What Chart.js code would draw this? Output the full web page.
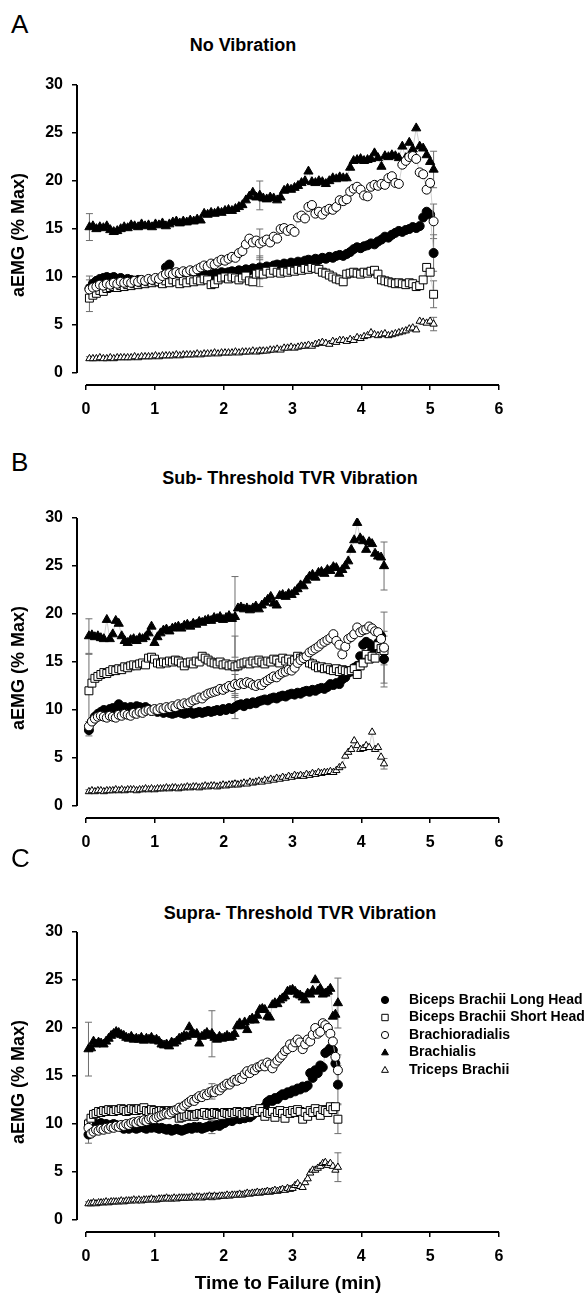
<!DOCTYPE html>
<html>
<head>
<meta charset="utf-8">
<script src="https://cdn.jsdelivr.net/npm/chart.js@4.4.1/dist/chart.umd.min.js"></script>
<style>
  body { margin: 0; background: #fff; }
  #page { position: relative; width: 585px; height: 1297px; font-family: "Liberation Sans", Arial, sans-serif; color: #000; }
  canvas { position: absolute; left: 0; }
  .letter { position: absolute; left: 11px; font-size: 26px; line-height: 1; }
  .title { position: absolute; font-size: 18px; font-weight: bold; line-height: 1; white-space: nowrap; transform: translate(-50%, -50%); }
</style>
</head>
<body>
<div id="page">
  <div class="letter" style="top:11px">A</div>
  <div class="title" style="left:243px; top:45px">No Vibration</div>
  <canvas id="chartA" width="585" height="370" style="top:60px"></canvas>

  <div class="letter" style="top:449px">B</div>
  <div class="title" style="left:290px; top:478px">Sub- Threshold TVR Vibration</div>
  <canvas id="chartB" width="585" height="370" style="top:493px"></canvas>

  <div class="letter" style="top:845px">C</div>
  <div class="title" style="left:300px; top:913px">Supra- Threshold TVR Vibration</div>
  <canvas id="chartC" width="585" height="417" style="top:880px"></canvas>
</div>
<script>
const seriesNames = ["Biceps Brachii Long Head", "Biceps Brachii Short Head", "Brachioradialis", "Brachialis", "Triceps Brachii"];
const xTicks = [0, 1, 2, 3, 4, 5, 6];
const yTicks = [0, 5, 10, 15, 20, 25, 30];
const errIndex = [0, 49, 99]; // samples that carry an SD bar (start, middle, end)

// time to failure of each condition (min); 100 samples over it
const durA = 5.05;
const durB = 4.33;
const durC = 3.66;

// ---- A: No Vibration
const A_long = [
  8.8, 9.3, 9.6, 9.8, 9.9, 10.0, 9.9, 10.0, 9.8, 9.9,
  9.7, 9.8, 9.7, 9.6, 9.7, 9.6, 9.5, 9.6, 9.5, 9.6,
  9.5, 9.6, 11.0, 11.3, 10.4, 10.1, 10.0, 9.9, 10.0, 10.1,
  10.0, 10.1, 10.2, 10.1, 10.3, 10.2, 10.4, 10.3, 10.5, 10.4,
  10.5, 10.6, 10.5, 10.7, 10.6, 10.8, 10.7, 10.9, 10.8, 11.0,
  10.9, 11.1, 11.0, 11.2, 11.3, 11.2, 11.4, 11.3, 11.5, 11.4,
  11.6, 11.5, 11.7, 11.8, 11.7, 11.9, 11.8, 12.0, 11.9, 12.1,
  12.0, 12.2, 12.3, 12.2, 12.4, 12.6, 12.9, 13.1, 13.0, 13.2,
  13.3, 13.5, 13.4, 13.7, 13.9, 14.2, 14.1, 14.4, 14.6, 14.8,
  14.7, 14.9, 15.0, 15.2, 15.1, 15.3, 16.2, 16.8, 16.5, 12.5
];
const A_short = [
  7.8, 8.1, 8.3, 8.6, 8.5, 8.8, 8.9, 9.0, 8.9, 9.1,
  9.0, 9.2, 9.1, 9.3, 9.2, 9.4, 9.3, 9.5, 9.4, 9.6,
  9.5, 9.3, 9.6, 9.4, 9.7, 9.5, 9.3, 9.6, 9.4, 9.7,
  9.5, 9.7, 9.6, 9.8, 9.7, 9.2, 9.3, 9.7, 9.9, 10.0,
  9.8, 10.0, 9.9, 9.7, 9.9, 10.1, 9.6, 9.5, 10.3, 10.4,
  10.3, 10.6, 10.4, 10.7, 10.5, 10.4, 10.6, 10.5, 10.7, 10.6,
  10.8, 10.7, 10.9, 10.8, 11.0, 10.9, 10.8, 10.5, 10.4, 10.2,
  10.0, 9.8, 9.7, 9.5, 10.3, 10.4, 10.5, 10.4, 10.3, 10.5,
  10.4, 10.6, 10.7, 10.3, 9.7, 9.6, 9.5, 9.4, 9.3, 9.4,
  9.3, 9.2, 9.4, 9.3, 9.0, 9.1, 9.7, 11.0, 10.5, 8.2
];
const A_brd = [
  8.7, 8.9, 9.0, 9.2, 9.1, 9.3, 9.2, 9.4, 9.3, 9.5,
  9.4, 9.5, 9.4, 9.6, 9.5, 9.7, 9.6, 9.8, 9.7, 9.9,
  9.8, 10.1, 10.3, 10.4, 10.3, 10.5, 10.4, 10.6, 10.5, 10.7,
  10.6, 10.8, 11.0, 11.2, 11.1, 11.4, 11.3, 11.6, 11.8, 11.7,
  11.9, 12.1, 12.0, 12.5, 12.7, 13.4, 14.0, 13.6, 13.8, 13.5,
  13.7, 13.9, 13.6, 14.2, 14.0, 15.0, 15.1, 14.8, 15.0, 14.7,
  16.2, 16.4, 16.1, 17.3, 17.5, 16.6, 16.8, 16.5, 16.9, 17.1,
  17.0, 17.3, 18.0, 17.9, 18.1, 18.9, 19.2, 19.4, 19.1, 18.5,
  18.4, 19.4, 19.6, 19.5, 19.7, 19.6, 20.3, 20.5, 19.8, 19.7,
  21.7, 22.1, 22.5, 22.6, 22.3, 20.9, 20.7, 19.1, 19.8, 15.8
];
const A_bra = [
  15.2, 15.3, 15.0, 15.2, 15.1, 15.3, 14.9, 14.7, 14.8, 15.0,
  15.2, 15.1, 15.4, 15.3, 15.2, 15.5, 15.3, 15.4, 15.2, 15.5,
  15.4, 15.6, 15.3, 15.5, 15.7, 15.8, 15.6, 15.8, 15.7, 15.9,
  15.8, 16.0, 15.9, 16.6, 16.5, 16.7, 16.6, 16.8, 16.7, 16.9,
  17.0, 16.9, 17.1, 17.3, 17.5, 18.0, 18.4, 18.8, 18.3, 18.5,
  18.2, 18.1, 18.3, 18.2, 18.0, 18.3, 19.0, 19.2, 19.1, 19.3,
  19.5, 19.8, 20.0, 21.0, 19.9, 19.8, 20.0, 19.9, 19.7, 20.0,
  20.3, 20.2, 20.4, 20.3, 20.3, 21.4, 22.1, 22.2, 22.3, 22.1,
  22.2, 22.3, 22.9, 22.4, 21.5, 22.6, 22.5, 22.7, 22.6, 22.4,
  23.6, 22.4, 24.0, 23.3, 25.5, 23.6, 23.4, 22.7, 22.0, 21.2
];
const A_tri = [
  1.5, 1.5, 1.5, 1.6, 1.5, 1.5, 1.6, 1.5, 1.6, 1.6,
  1.6, 1.6, 1.6, 1.7, 1.6, 1.7, 1.7, 1.7, 1.7, 1.8,
  1.7, 1.8, 1.8, 1.8, 1.8, 1.9, 1.8, 1.9, 1.9, 1.9,
  1.9, 2.0, 1.9, 2.0, 2.0, 2.0, 2.1, 2.0, 2.1, 2.1,
  2.1, 2.1, 2.2, 2.1, 2.2, 2.2, 2.2, 2.3, 2.2, 2.3,
  2.3, 2.3, 2.4, 2.4, 2.5, 2.4, 2.6, 2.6, 2.7, 2.6,
  2.7, 2.8, 2.8, 2.9, 2.8, 3.0, 3.1, 3.2, 3.1, 3.0,
  3.3, 3.2, 3.4, 3.4, 3.3, 3.5, 3.4, 3.7, 3.6, 3.8,
  3.9, 4.2, 4.0, 3.9, 4.0, 4.1, 3.9, 4.0, 4.1, 4.2,
  4.3, 4.4, 4.6, 4.7, 4.5, 5.4, 5.3, 5.2, 5.4, 5.1
];
const A_sd_long = [1.3, 1.2, 1.9];
const A_sd_short = [1.4, 1.4, 1.4];
const A_sd_brd = [1.0, 1.5, 1.8];
const A_sd_bra = [1.4, 1.5, 1.9];
const A_sd_tri = [0.2, 0.3, 0.7];

// ---- B: Sub-threshold TVR vibration
const B_long = [
  7.9, 8.8, 9.3, 9.6, 9.8, 10.0, 9.9, 10.1, 10.2, 10.0,
  10.6, 10.2, 10.3, 10.1, 10.3, 10.2, 10.4, 10.3, 10.2, 10.3,
  10.1, 9.9, 10.0, 9.8, 9.9, 9.7, 9.8, 9.7, 9.6, 9.7,
  9.8, 9.7, 9.6, 9.7, 9.8, 9.6, 9.7, 9.8, 9.7, 9.8,
  9.9, 9.8, 9.9, 10.0, 9.9, 10.1, 10.0, 10.2, 10.1, 10.3,
  10.5, 10.6, 10.4, 10.7, 10.6, 10.8, 10.7, 10.9, 11.0, 11.1,
  11.0, 11.2, 11.3, 11.2, 11.4, 11.5, 11.4, 11.6, 11.7, 11.6,
  11.8, 11.7, 11.9, 12.0, 11.9, 12.1, 12.0, 12.2, 12.3, 12.2,
  12.4, 12.7, 12.6, 12.8, 12.7, 13.2, 13.4, 13.9, 14.0, 14.4,
  14.6, 15.6, 16.8, 17.1, 16.9, 16.2, 16.5, 17.0, 17.7, 15.3
];
const B_short = [
  12.0, 12.8, 13.3, 13.5, 13.7, 13.9, 13.8, 14.0, 14.2, 14.1,
  14.3, 14.2, 14.5, 14.4, 14.6, 14.7, 14.6, 14.8, 14.9, 14.7,
  15.4, 15.5, 15.3, 14.9, 14.8, 15.0, 14.9, 15.1, 15.0, 15.2,
  15.1, 14.9, 14.6, 14.9, 15.0, 14.8, 15.1, 15.0, 15.6, 15.4,
  15.2, 15.0, 14.9, 14.8, 15.0, 14.7, 14.8, 14.6, 14.7, 14.5,
  14.6, 14.8, 14.9, 15.0, 14.8, 15.1, 14.9, 15.2, 15.0, 14.8,
  15.1, 15.0, 15.3, 15.2, 14.9, 15.4, 15.1, 15.3, 15.0, 15.2,
  15.6, 15.4, 15.5, 15.3, 14.9, 14.8, 14.6, 14.4, 14.5, 14.3,
  14.4, 14.2, 14.1, 14.3, 14.0, 14.2, 14.1, 14.0, 14.1, 14.3,
  13.7, 14.6, 14.9, 15.8, 15.3, 15.6, 15.4, 16.7, 16.4, 16.2
];
const B_brd = [
  8.3, 8.8, 9.1, 9.3, 9.4, 9.3, 9.2, 9.4, 9.3, 9.2,
  9.5, 9.4, 9.6, 9.5, 9.4, 9.7, 9.6, 9.8, 9.7, 9.9,
  10.0, 9.9, 10.1, 10.0, 10.2, 10.1, 10.3, 10.2, 10.4, 10.3,
  10.6, 10.5, 10.7, 10.6, 10.8, 11.0, 11.1, 11.3, 11.2, 11.5,
  11.7, 11.8, 11.9, 12.0, 12.2, 12.1, 12.3, 12.5, 12.4, 12.7,
  12.6, 12.8, 12.7, 12.9, 12.8, 12.6, 12.5, 12.7, 12.6, 12.9,
  13.1, 13.3, 13.5, 13.4, 13.7, 13.9, 14.0, 14.2, 14.1, 14.4,
  14.9, 15.2, 15.4, 15.6, 16.0, 16.2, 16.4, 16.6, 16.9, 17.1,
  17.3, 17.5, 17.9, 17.2, 16.8, 15.8, 16.6, 17.4, 17.6, 17.9,
  18.6, 18.1, 18.3, 18.4, 18.7, 18.5, 18.2, 18.1, 17.4, 16.5
];
const B_bra = [
  17.7, 17.8, 17.6, 17.7, 17.5, 17.4, 19.4, 17.4, 17.9, 19.3,
  19.0, 17.7, 17.2, 17.0, 17.3, 17.4, 17.2, 17.5, 17.4, 17.6,
  18.0, 18.7, 17.0, 17.6, 18.0, 18.3, 18.4, 18.2, 18.5, 18.6,
  18.7, 18.5, 18.8, 18.9, 18.7, 19.0, 18.9, 19.2, 19.1, 19.3,
  19.4, 19.3, 19.6, 19.5, 19.7, 19.4, 19.6, 19.8, 19.5, 19.7,
  20.6, 20.7, 20.5, 20.6, 20.4, 20.6, 20.8, 20.5, 20.9, 21.2,
  21.5, 21.8, 21.1, 20.9, 21.9, 22.0, 21.8, 22.1, 22.0, 22.3,
  22.6, 23.0, 22.9, 23.5, 23.9, 24.1, 23.8, 24.3, 24.4, 24.2,
  24.6, 24.5, 24.9, 24.8, 24.2, 24.6, 25.0, 25.5, 26.7, 27.7,
  29.5, 27.9, 27.6, 26.7, 27.5, 27.3, 26.3, 26.0, 25.9, 25.0
];
const B_tri = [
  1.5, 1.6, 1.5, 1.6, 1.6, 1.5, 1.6, 1.6, 1.6, 1.7,
  1.6, 1.7, 1.6, 1.7, 1.7, 1.7, 1.6, 1.7, 1.7, 1.8,
  1.7, 1.8, 1.7, 1.8, 1.8, 1.8, 1.9, 1.8, 1.9, 1.9,
  1.8, 1.9, 1.9, 2.0, 1.9, 2.0, 2.0, 1.9, 2.0, 2.1,
  2.0, 2.1, 2.1, 2.0, 2.1, 2.2, 2.1, 2.2, 2.2, 2.3,
  2.2, 2.3, 2.4, 2.3, 2.5, 2.4, 2.5, 2.6, 2.5, 2.7,
  2.6, 2.8, 2.7, 2.9, 2.8, 3.0, 2.9, 3.1, 3.0, 3.2,
  3.1, 3.2, 3.1, 3.3, 3.2, 3.4, 3.3, 3.5, 3.4, 3.5,
  3.5, 3.6, 3.5, 3.7, 4.0, 4.2, 5.2, 5.6, 5.9, 6.8,
  6.3, 5.9, 6.0, 6.3, 6.1, 7.7, 5.9, 6.1, 5.1, 4.4
];
const B_sd_long = [0.6, 1.2, 2.9];
const B_sd_short = [3.8, 3.2, 1.5];
const B_sd_brd = [0.5, 1.0, 3.7];
const B_sd_bra = [1.8, 4.2, 2.5];
const B_sd_tri = [0.2, 0.3, 0.55];

// ---- C: Supra-threshold TVR vibration
const C_long = [
  8.9, 9.7, 9.9, 10.0, 9.9, 10.1, 9.9, 10.0, 9.8, 9.9,
  10.0, 9.9, 9.8, 9.7, 9.5, 9.6, 9.5, 9.7, 9.6, 9.5,
  9.6, 9.7, 9.6, 9.5, 9.7, 9.6, 9.8, 9.6, 9.5, 9.6,
  9.5, 9.4, 9.5, 9.3, 9.4, 9.5, 9.4, 9.3, 9.4, 9.5,
  9.6, 9.5, 9.7, 9.6, 9.7, 9.5, 9.6, 9.7, 9.8, 9.7,
  9.8, 9.9, 9.8, 10.0, 10.1, 10.3, 10.4, 10.3, 10.5, 10.6,
  10.5, 10.7, 10.6, 10.8, 10.7, 10.9, 11.2, 11.4, 11.5, 11.6,
  11.8, 12.3, 12.5, 12.4, 12.7, 12.6, 12.9, 13.1, 13.0, 13.3,
  13.2, 13.5, 13.4, 13.7, 13.6, 13.9, 13.8, 14.0, 15.3, 14.8,
  15.6, 15.3, 16.1, 15.9, 17.4, 17.6, 17.9, 17.7, 16.3, 14.1
];
const C_short = [
  10.0, 10.6, 11.0, 11.1, 11.3, 11.2, 11.4, 11.3, 11.5, 11.4,
  11.3, 11.5, 11.4, 11.6, 11.5, 11.3, 11.4, 11.6, 11.5, 11.4,
  11.6, 11.5, 11.7, 11.4, 11.3, 11.5, 11.4, 11.2, 11.3, 11.4,
  11.3, 11.2, 11.4, 11.3, 11.1, 11.2, 10.6, 10.7, 10.9, 10.8,
  11.0, 10.9, 10.8, 11.0, 11.1, 11.0, 11.2, 10.9, 11.1, 11.0,
  11.2, 11.1, 11.0, 10.9, 11.2, 11.1, 11.0, 11.2, 11.1, 11.3,
  11.2, 11.0, 11.1, 11.3, 11.2, 11.1, 11.4, 11.2, 11.6, 11.3,
  10.8, 11.2, 11.1, 11.3, 10.7, 11.2, 11.4, 11.1, 10.6, 11.3,
  11.1, 11.4, 11.2, 11.5, 11.3, 10.5, 11.2, 10.8, 11.4, 11.2,
  11.6, 11.3, 10.9, 11.5, 11.4, 11.2, 11.8, 11.5, 11.8, 10.5
];
const C_brd = [
  9.6, 9.0, 9.2, 9.4, 9.3, 9.5, 9.4, 9.6, 9.5, 9.7,
  9.6, 9.8, 9.7, 9.9, 9.8, 10.0, 9.9, 10.1, 10.2, 10.1,
  10.3, 10.2, 10.4, 10.3, 10.5, 10.6, 10.5, 10.7, 10.8, 10.9,
  11.0, 11.1, 11.0, 11.2, 11.4, 11.5, 11.7, 11.6, 11.9, 12.1,
  12.3, 12.5, 12.4, 12.7, 12.9, 12.8, 13.1, 13.0, 13.3, 13.4,
  13.3, 13.6, 13.5, 13.8, 14.0, 14.2, 14.1, 14.4, 14.6, 14.5,
  14.8, 14.7, 15.2, 15.5, 15.3, 15.7, 15.6, 15.9, 16.0, 16.2,
  16.0, 16.4, 16.2, 15.8, 16.3, 16.6, 16.9, 17.2, 17.6, 17.8,
  18.3, 18.0, 18.5, 18.8, 18.5, 17.8, 18.3, 18.8, 18.6, 19.3,
  20.0, 19.4, 19.6, 20.5, 20.3, 20.0, 19.4, 18.6, 17.0, 15.6
];
const C_bra = [
  17.8, 17.9, 18.6, 18.3, 18.5, 18.4, 18.3, 18.6, 18.9, 19.2,
  19.4, 19.6, 19.5, 19.3, 19.2, 19.0, 18.9, 19.1, 18.8, 18.9,
  18.8, 19.0, 18.7, 18.9, 18.8, 19.0, 18.7, 18.8, 18.6, 18.3,
  18.2, 18.3, 18.1, 18.5, 18.4, 18.6, 18.9, 19.0, 19.2, 19.1,
  20.1, 19.5, 19.3, 19.4, 18.4, 19.1, 19.3, 19.5, 19.2, 19.4,
  19.0, 18.8, 19.1, 18.9, 19.0, 19.2, 19.0, 19.1, 19.4, 20.2,
  20.5, 20.2, 20.6, 19.8, 20.8, 21.0, 20.8, 21.3, 21.9, 22.0,
  21.9, 21.2, 21.1, 22.4, 22.6, 22.5, 22.9, 23.1, 23.3, 23.8,
  23.9, 24.0, 23.8, 23.5, 23.4, 23.2, 22.9, 23.6, 23.5, 23.9,
  25.0, 23.8, 24.1, 23.5, 23.6, 23.8, 24.1, 21.2, 21.4, 22.6
];
const C_tri = [
  1.7, 1.7, 1.8, 1.7, 1.8, 1.8, 1.8, 1.9, 1.8, 1.9,
  1.9, 1.9, 1.9, 2.0, 1.9, 2.0, 2.0, 2.0, 2.1, 2.0,
  2.1, 2.0, 2.1, 2.1, 2.1, 2.2, 2.1, 2.1, 2.2, 2.2,
  2.2, 2.3, 2.2, 2.2, 2.3, 2.2, 2.3, 2.3, 2.3, 2.3,
  2.3, 2.4, 2.3, 2.4, 2.4, 2.3, 2.4, 2.4, 2.5, 2.4,
  2.5, 2.4, 2.5, 2.5, 2.5, 2.6, 2.5, 2.6, 2.6, 2.6,
  2.7, 2.6, 2.7, 2.8, 2.7, 2.8, 2.8, 2.9, 2.8, 2.9,
  2.9, 3.0, 2.9, 3.0, 3.1, 3.0, 3.1, 3.2, 3.1, 3.3,
  3.2, 3.3, 3.6, 3.8, 3.5, 3.4, 3.9, 4.3, 4.9, 5.2,
  5.2, 5.4, 5.6, 5.9, 6.0, 5.7, 5.9, 5.6, 5.2, 5.5
];
const C_sd_long = [0.9, 0.7, 2.0];
const C_sd_short = [0.5, 0.6, 1.5];
const C_sd_brd = [0.5, 0.8, 1.6];
const C_sd_bra = [2.8, 2.4, 2.6];
const C_sd_tri = [0.2, 0.3, 1.5];

// ---- styling
const FONT = '"Liberation Sans", Arial, sans-serif';
Chart.defaults.font.family = FONT;
Chart.defaults.color = "#000";

const markers = [
  { pointStyle: "circle",   radius: 4.5, fill: "#000" },
  { pointStyle: "rect",     radius: 5.6, fill: "#fff" },
  { pointStyle: "circle",   radius: 4.5, fill: "#fff" },
  { pointStyle: "triangle", radius: 5.3, fill: "#000" },
  { pointStyle: "triangle", radius: 4.2, fill: "#fff" },
];
const drawOrder = [3, 2, 1, 4, 5]; // lower = drawn on top

function makeDatasets(dur, seriesList) {
  return seriesList.map((vals, k) => ({
    label: seriesNames[k],
    data: vals.map((v, i) => ({ x: (i + 1) * dur / vals.length, y: v })),
    showLine: true,
    borderColor: "#c4c4c4",
    borderWidth: 0.8,
    pointStyle: markers[k].pointStyle,
    pointRadius: markers[k].radius,
    pointBackgroundColor: markers[k].fill,
    pointBorderColor: "#000",
    pointBorderWidth: 1,
    order: drawOrder[k],
  }));
}

// SD bars drawn under the markers
const errorBars = {
  id: "errorBars",
  beforeDatasetsDraw(chart, args, opts) {
    const { ctx, scales: { x, y } } = chart;
    ctx.save();
    ctx.strokeStyle = "#6e6e6e";
    ctx.lineWidth = 1;
    chart.data.datasets.forEach((ds, k) => {
      errIndex.forEach((idx, j) => {
        const p = ds.data[idx];
        const sd = opts.sd[k][j];
        const px = x.getPixelForValue(p.x);
        const top = y.getPixelForValue(p.y + sd);
        const bot = y.getPixelForValue(p.y - sd);
        ctx.beginPath();
        ctx.moveTo(px, top); ctx.lineTo(px, bot);
        ctx.moveTo(px - 3.5, top); ctx.lineTo(px + 3.5, top);
        ctx.moveTo(px - 3.5, bot); ctx.lineTo(px + 3.5, bot);
        ctx.stroke();
      });
    });
    ctx.restore();
  }
};

// SigmaPlot-like detached axis lines, spanning only the tick range
const axisLines = {
  id: "axisLines",
  afterDraw(chart) {
    const { ctx, chartArea, scales: { x, y } } = chart;
    ctx.save();
    ctx.strokeStyle = "#000";
    ctx.lineWidth = 2;
    ctx.beginPath();
    ctx.moveTo(chartArea.left, y.getPixelForValue(yTicks[0]));
    ctx.lineTo(chartArea.left, y.getPixelForValue(yTicks[yTicks.length - 1]));
    ctx.moveTo(x.getPixelForValue(xTicks[0]), chartArea.bottom);
    ctx.lineTo(x.getPixelForValue(xTicks[xTicks.length - 1]), chartArea.bottom);
    ctx.stroke();
    ctx.restore();
  }
};

function drawMarker(ctx, style, cx, cy, r, fill) {
  ctx.beginPath();
  if (style === "circle") {
    ctx.arc(cx, cy, r, 0, Math.PI * 2);
  } else if (style === "rect") {
    ctx.rect(cx - r, cy - r, 2 * r, 2 * r);
  } else {
    ctx.moveTo(cx, cy - r);
    ctx.lineTo(cx + r * 0.95, cy + r * 0.65);
    ctx.lineTo(cx - r * 0.95, cy + r * 0.65);
    ctx.closePath();
  }
  ctx.fillStyle = fill;
  ctx.fill();
  ctx.lineWidth = 1;
  ctx.strokeStyle = "#000";
  ctx.stroke();
}

const sideLegend = {
  id: "sideLegend",
  afterDraw(chart, args, opts) {
    if (!opts.show) return;
    const ctx = chart.ctx;
    ctx.save();
    ctx.font = "bold 14px " + FONT;
    ctx.textBaseline = "middle";
    ctx.textAlign = "left";
    chart.data.datasets.forEach((ds, k) => {
      const yy = opts.top + k * opts.gap;
      const r = ds.pointStyle === "rect" ? 3.2 : 3.6;
      drawMarker(ctx, ds.pointStyle, opts.markerX, yy, r, ds.pointBackgroundColor);
      ctx.fillStyle = "#000";
      ctx.fillText(ds.label, opts.textX, yy);
    });
    ctx.restore();
  }
};

function makeScales(showXTitle, xHeight) {
  return {
    x: {
      type: "linear",
      min: -0.13,
      max: 6,
      afterBuildTicks: (s) => { s.ticks = xTicks.map((v) => ({ value: v })); },
      afterFit: (s) => { s.height = xHeight; },
      grid: { drawOnChartArea: false, drawTicks: true, tickLength: 5, color: "#000", lineWidth: 1.5 },
      border: { display: false },
      ticks: { color: "#000", padding: 10, autoSkip: false, maxRotation: 0, font: { size: 16, weight: "bold" } },
      title: { display: showXTitle, text: "Time to Failure (min)", color: "#000", font: { size: 19, weight: "bold" }, padding: { top: 0, bottom: 2 } },
    },
    y: {
      type: "linear",
      min: -1.25,
      max: 30,
      afterBuildTicks: (s) => { s.ticks = yTicks.map((v) => ({ value: v })); },
      afterFit: (s) => { s.width = 77; },
      grid: { drawOnChartArea: false, drawTicks: true, tickLength: 5, color: "#000", lineWidth: 1.5 },
      border: { display: false },
      ticks: { color: "#000", padding: 9, autoSkip: false, font: { size: 16, weight: "bold" } },
      title: { display: true, text: "aEMG (% Max)", color: "#000", font: { size: 18, weight: "bold" }, padding: { top: 8, bottom: 0 } },
    },
  };
}

function drawPanel(id, dur, seriesList, sdList, showXTitle, xHeight, topPad, showLegend) {
  new Chart(document.getElementById(id), {
    type: "scatter",
    data: { datasets: makeDatasets(dur, seriesList) },
    options: {
      responsive: false,
      animation: false,
      events: [],
      devicePixelRatio: 1,
      layout: { padding: { top: topPad, right: 86, bottom: 0, left: 0 } },
      scales: makeScales(showXTitle, xHeight),
      plugins: {
        legend: { display: false },
        tooltip: { enabled: false },
        errorBars: { sd: sdList },
        sideLegend: { show: showLegend, top: 120, gap: 17.5, markerX: 385, textX: 409 },
      },
    },
    plugins: [errorBars, axisLines, sideLegend],
  });
}

drawPanel("chartA", durA,
  [A_long, A_short, A_brd, A_bra, A_tri],
  [A_sd_long, A_sd_short, A_sd_brd, A_sd_bra, A_sd_tri],
  false, 45, 25, false);

drawPanel("chartB", durB,
  [B_long, B_short, B_brd, B_bra, B_tri],
  [B_sd_long, B_sd_short, B_sd_brd, B_sd_bra, B_sd_tri],
  false, 45, 25, false);

drawPanel("chartC", durC,
  [C_long, C_short, C_brd, C_bra, C_tri],
  [C_sd_long, C_sd_short, C_sd_brd, C_sd_bra, C_sd_tri],
  true, 65, 52, true);
</script>
</body>
</html>
